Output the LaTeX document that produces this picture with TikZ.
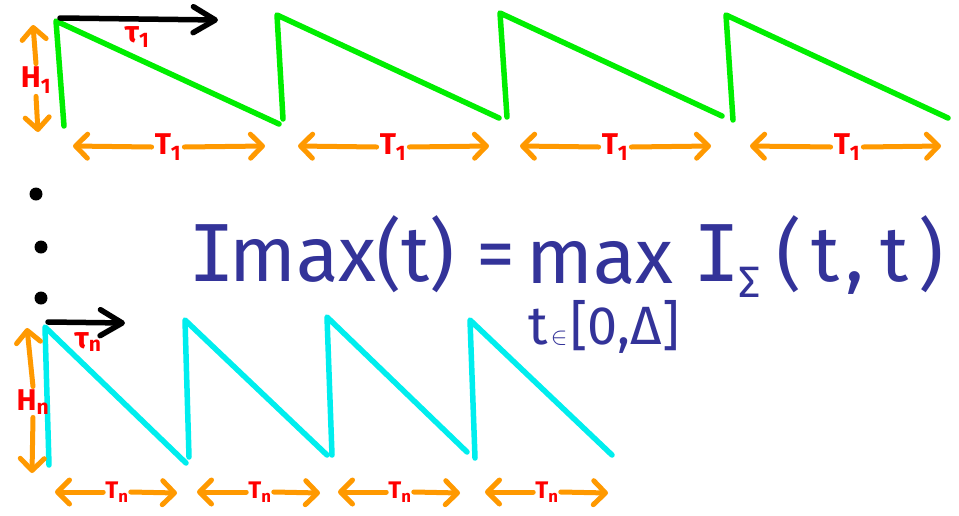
\documentclass[tikz,border=0pt]{standalone}
\usepackage{fontspec}
\setmainfont{Fira Sans}
\newfontfamily\monofam{DejaVu Sans Mono}
\usetikzlibrary{arrows.meta}
\definecolor{grn}{RGB}{0,238,0}
\definecolor{cyn}{RGB}{0,238,238}
\definecolor{org}{RGB}{255,153,0}
\definecolor{lab}{RGB}{255,0,0}
\definecolor{ink}{RGB}{51,51,153}
\newcommand{\barI}{{\monofam I}}
\begin{document}
\begin{tikzpicture}[x=1pt,y=-1pt, line cap=round, line join=round,
 saw/.style={line width=5.5pt},
 dim/.style={org, line width=5pt, -{Straight Barb[length=12pt,width=24pt,round]}},
 tau/.style={line width=5.5pt, -{Straight Barb[length=22pt,width=26pt,round]}},
 lbl/.style={text=lab, font=\bfseries\fontsize{30}{30}\selectfont, inner sep=3pt},
 lbls/.style={text=lab, font=\bfseries\fontsize{24}{24}\selectfont, inner sep=2pt},
 formula/.style={text=ink, font=\fontsize{78}{78}\selectfont, inner sep=0pt},
 dot/.style={circle, fill=black, minimum size=13pt, inner sep=0pt}]
\useasboundingbox (0,0) rectangle (959,515);
\fill[white] (0,0) rectangle (959,515);

% green sawtooth
\draw[saw, grn] (64,126) -- (56,21) -- (279,124) (283,119) -- (277,15) -- (499,118)
  (507,117) -- (500,13) -- (722,116) (733,120) -- (726,15) -- (948,118);
% cyan sawtooth
\draw[saw, cyn] (49,465) -- (45,327) -- (186,463) (189,457) -- (185,320) -- (327,455)
  (332,455) -- (327,317) -- (467,452) (475,458) -- (470,320) -- (612,455);

% tau_1 arrow
\coordinate (ts1) at (60,18);
\coordinate (te1) at (218,20);
\draw[tau] (ts1) -- (te1);
\node[lbl] (tau1) at (137,37) {τ\textsubscript{1}};

% H_1
\node[lbl] (H1) at (36,80) {H\textsubscript{1}};
\coordinate (hu1) at (33,25);
\coordinate (hd1) at (38,132);
\draw[dim] (H1.north) -- (hu1);
\draw[dim] (H1.south) -- (hd1);

% top periods
\foreach \i/\c/\l/\r in {a/168/73/265, b/393/298/489, c/615/520/711, d/847/750/941}{
  \node[lbl] (T\i) at (\c,147) {T\textsubscript{1}};
  \coordinate (L\i) at (\l,146);
  \coordinate (R\i) at (\r,146);
  \draw[dim] (T\i.west) -- (L\i);
  \draw[dim] (T\i.east) -- (R\i);
}

% dots
\node[dot] (d1) at (36,194) {};
\node[dot] (d2) at (41,247) {};
\node[dot] (d3) at (41,298) {};

% tau_n arrow
\coordinate (tsn) at (48,322);
\coordinate (ten) at (125,323);
\draw[tau] (tsn) -- (ten);
\node[lbl] (taun) at (88,342) {τ\textsubscript{n}};

% H_n
\node[lbl] (Hn) at (33,402) {H\textsubscript{n}};
\coordinate (hun) at (27,328);
\coordinate (hdn) at (32,473);
\draw[dim] (Hn.north) -- (hun);
\draw[dim] (Hn.south) -- (hdn);

% bottom periods
\foreach \i/\c/\l/\r in {a/117/55/177, b/260/197/320, c/400/338/460, d/547/485/608}{
  \node[lbls] (B\i) at (\c,492) {T\textsubscript{n}};
  \coordinate (BL\i) at (\l,492);
  \coordinate (BR\i) at (\r,493);
  \draw[dim] (B\i.west) -- (BL\i);
  \draw[dim] (B\i.east) -- (BR\i);
}

% formula
\node[formula, anchor=base west] (imax) at (188,281) {\barI\kern-6pt max(t)};
\node[formula] (eq) at (496,262) {=};
\node[formula, anchor=base] (mx) at (600,283) {max};
\node[text=ink, font=\fontsize{54}{54}\selectfont, inner sep=0pt, anchor=north] (lim) at (604,300) {t\kern3pt{\fontsize{40}{40}\selectfont$\in$}\kern3pt[0,Δ]};
\node[formula, anchor=base west] (isig) at (693,281)
  {\barI\kern-2pt\raisebox{-16pt}{\fontsize{44}{44}\selectfont Σ}\kern16pt(\kern10pt t\kern6pt,\kern16pt t\kern10pt)};
\end{tikzpicture}
\end{document}
